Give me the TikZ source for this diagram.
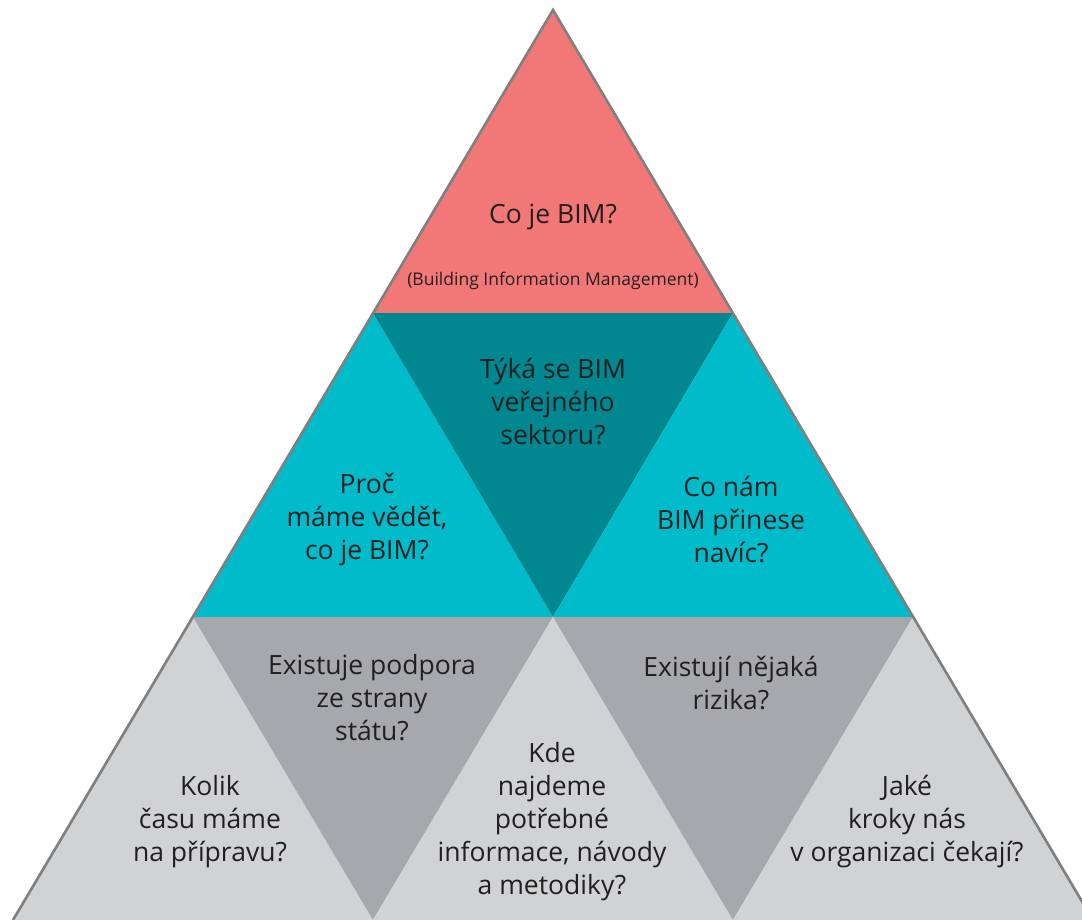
\documentclass[tikz,border=0pt]{standalone}
\usepackage{fontspec}
\setmainfont{Open Sans}
\usepackage{xcolor}
\usepackage{tikz}

\definecolor{bimred}{HTML}{F27878}
\definecolor{bimcyan}{HTML}{00BCCB}
\definecolor{bimteal}{HTML}{00878F}
\definecolor{bimlight}{HTML}{D1D2D4}
\definecolor{bimgray}{HTML}{A7A8AC}
\definecolor{bimedge}{HTML}{7F7F80}
\definecolor{bimtext}{HTML}{231F20}

\begin{document}
\begin{tikzpicture}[
    x=1pt, y=-1pt,
    every node/.style={align=center, text=bimtext, font=\fontsize{26.5}{33}\selectfont},
    small/.style={font=\fontsize{17.5}{20}\selectfont},
    edge/.style={draw=bimedge, line width=2.6pt}
]
\useasboundingbox (0,0) rectangle (1082,920);
\clip (0,0) rectangle (1082,920);

% grid points of the pyramid
\coordinate (P00) at (553,10);
\coordinate (P10) at (373,313);
\coordinate (P11) at (733,313);
\coordinate (P20) at (193,617);
\coordinate (P21) at (553,617);
\coordinate (P22) at (913,617);
\coordinate (P30) at (13,920);
\coordinate (P31) at (373,920);
\coordinate (P32) at (733,920);
\coordinate (P33) at (1093,920);

% row 1: top
\fill[bimred] (P00) -- (P10) -- (P11) -- cycle;

% row 2: middle
\fill[bimcyan] (P10) -- (P20) -- (P21) -- cycle;
\fill[bimteal] (P10) -- (P11) -- (P21) -- cycle;
\fill[bimcyan] (P11) -- (P21) -- (P22) -- cycle;

% row 3: bottom
\fill[bimlight] (P20) -- (P30) -- (P31) -- cycle;
\fill[bimgray] (P20) -- (P21) -- (P31) -- cycle;
\fill[bimlight] (P21) -- (P31) -- (P32) -- cycle;
\fill[bimgray] (P21) -- (P22) -- (P32) -- cycle;
\fill[bimlight] (P22) -- (P32) -- (P33) -- cycle;

% outer edges
\draw[edge] (P30) -- (P00) -- (P33);

% texts
\node (q1) at (553,217) {Co je BIM?};
\node[small] (q1s) at (553,281) {(Building Information Management)};
\node (q2) at (553,402) {Týká se BIM\\veřejného\\sektoru?};
\node (q3) at (367,520) {Proč\\máme vědět,\\co je BIM?};
\node (q4) at (731,520) {Co nám\\BIM přinese\\navíc?};
\node (q5) at (372,698) {Existuje podpora\\ze strany\\státu?};
\node (q6) at (731,683) {Existují nějaká\\rizika?};
\node (q7) at (210,822) {Kolik\\času máme\\na přípravu?};
\node (q8) at (552,822) {Kde\\najdeme\\potřebné\\informace, návody\\a metodiky?};
\node (q9) at (907,822) {Jaké\\kroky nás\\v organizaci čekají?};

\end{tikzpicture}
\end{document}
